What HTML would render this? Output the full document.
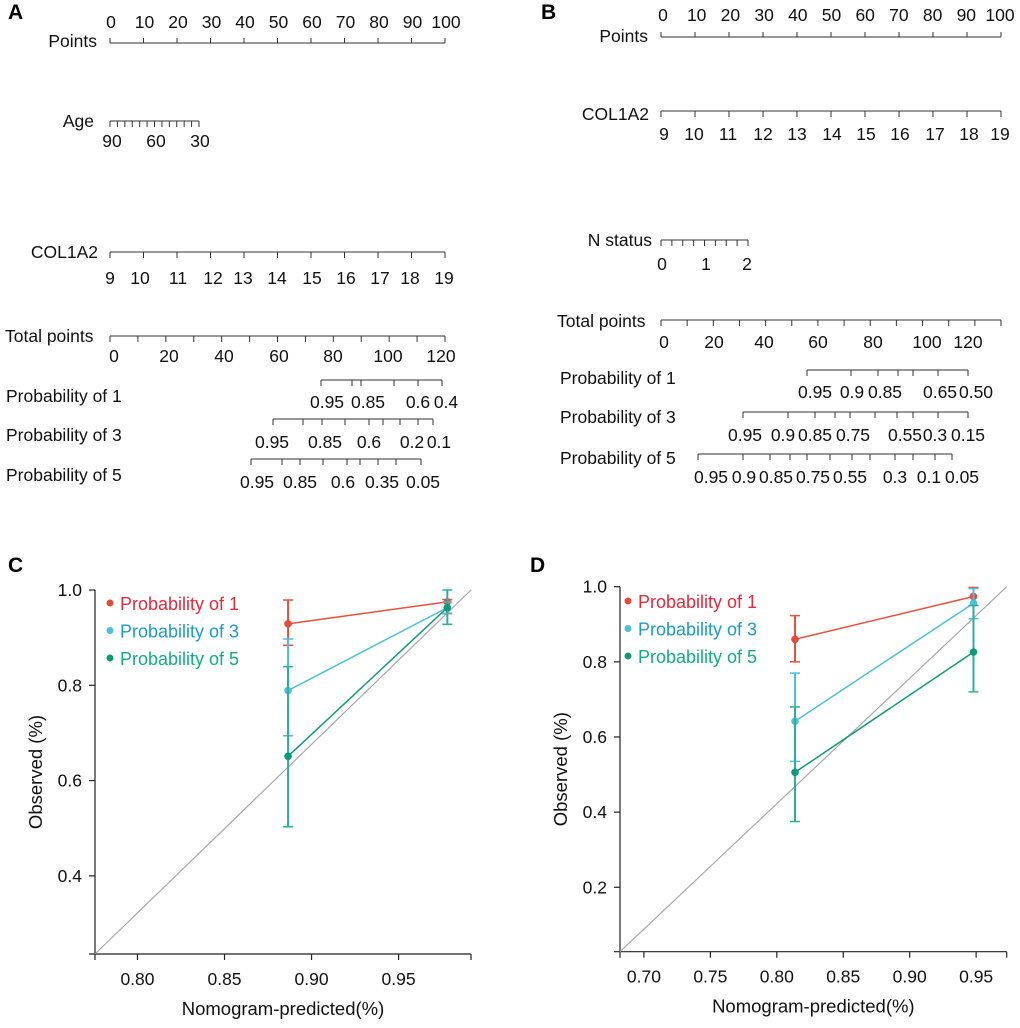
<!DOCTYPE html>
<html><head><meta charset="utf-8"><style>
body{margin:0;background:#fff;}
svg{display:block;font-family:"Liberation Sans",sans-serif;}
</style></head><body>
<svg id="fig" width="1020" height="1028" viewBox="0 0 1020 1028"></svg>
<script>
// ---------- Calibration data ----------
const predC = [0.8865, 0.978];
const p1C = [0.929, 0.975], p1CLo = [0.884, 0.951], p1CHi = [0.979, 0.98];
const p3C = [0.789, 0.963], p3CLo = [0.694, 0.95], p3CHi = [0.897, 0.975];
const p5C = [0.651, 0.963], p5CLo = [0.503, 0.928], p5CHi = [0.839, 1.0];
const predD = [0.8137, 0.948];
const p1D = [0.86, 0.974], p1DLo = [0.80, 0.95], p1DHi = [0.923, 0.998];
const p3D = [0.642, 0.956], p3DLo = [0.535, 0.915], p3DHi = [0.77, 0.995];
const p5D = [0.506, 0.826], p5DLo = [0.375, 0.72], p5DHi = [0.68, 0.95];
const xTicksC = [0.80, 0.85, 0.90, 0.95], yTicksC = [0.4, 0.6, 0.8, 1.0];
const xTicksD = [0.70, 0.75, 0.80, 0.85, 0.90, 0.95], yTicksD = [0.2, 0.4, 0.6, 0.8, 1.0];
const legendLabels = ["Probability of 1", "Probability of 3", "Probability of 5"];

const NS = "http://www.w3.org/2000/svg";
const svg = document.getElementById('fig');
const NF = 17.5;
function el(tag, attrs, parent, txt) {
  const e = document.createElementNS(NS, tag);
  for (const k in attrs) e.setAttribute(k, attrs[k]);
  if (txt !== undefined) e.textContent = txt;
  (parent || svg).appendChild(e);
  return e;
}
function grp(name) {
  const g = el('g', {});
  
  
  return g;
}
function ln(g, x1, y1, x2, y2, c, w) { return el('line', {x1, y1, x2, y2, stroke: c || '#222', 'stroke-width': w || 1}, g); }
function tx(g, x, y, s, anchor, size, fill, weight) {
  return el('text', {x, y, 'text-anchor': anchor || 'middle', 'font-size': size || 15, fill: fill || '#111', 'font-weight': weight || 'normal'}, g, s);
}

// ---------- Panel letters ----------
[["A", 8, 19], ["B", 541, 19], ["C", 8, 572], ["D", 530, 572]].forEach(([s, x, y]) => {
  const t = tx(svg, x, y, s, 'start', 21, '#000', 'bold');
  
  
});

// ---------- Nomogram helper ----------
function nomoAxis(name, label, labelX, labelY, labelAnchor, x0, x1, y, ticks, up, tlabels, tly) {
  const g = grp(name);
  ln(g, x0, y, x1, y, '#333', 1);
  ticks.forEach(t => ln(g, t, y, t, up ? y - 5 : y + 6, '#333', 1));
  tx(g, labelX, labelY, label, labelAnchor, NF);
  tlabels.forEach(([s, x]) => tx(g, x, tly, s, 'middle', NF));
}
function even(x0, x1, n) { const a = []; for (let i = 0; i < n; i++) a.push(x0 + (x1 - x0) * i / (n - 1)); return a; }

// Panel A
nomoAxis('a-points-axis', 'Points', 97, 47, 'end', 110, 445, 43, even(110, 445, 11), true,
  ['0','10','20','30','40','50','60','70','80','90','100'].map((s, i) => [s, 111 + 33.5 * i]), 28);
nomoAxis('a-age-axis', 'Age', 94, 127, 'end', 110, 199, 121, even(110, 199, 13), false,
  [['90', 112], ['60', 156], ['30', 200]], 147);
nomoAxis('a-col1a2-axis', 'COL1A2', 98, 258, 'end', 110, 445, 252, even(110, 445, 11), false,
  [['9',110],['10',140],['11',178],['12',213],['13',243],['14',277],['15',312],['16',346],['17',380],['18',410],['19',444]], 284);
nomoAxis('a-total-points-axis', 'Total points', 5, 342, 'start', 110, 445, 336, even(110, 445, 13), false,
  [['0',114],['20',169],['40',224],['60',279],['80',333],['100',388],['120',441]], 362);
nomoAxis('a-prob1-axis', 'Probability of 1', 6, 402, 'start', 321, 442, 380, [321,352,361,394,418,442], false,
  [['0.95',327],['0.85',368],['0.6',418],['0.4',446]], 408);
nomoAxis('a-prob3-axis', 'Probability of 3', 6, 441, 'start', 273, 433, 419, [273,303,322,345,369,383,400,418,433], false,
  [['0.95',272],['0.85',325],['0.6',369],['0.2',412],['0.1',439]], 448);
nomoAxis('a-prob5-axis', 'Probability of 5', 6, 481, 'start', 251, 421, 459, [251,282,300,323,347,360,378,396,421], false,
  [['0.95',257],['0.85',300],['0.6',343],['0.35',382],['0.05',423]], 488);

// Panel B
nomoAxis('b-points-axis', 'Points', 648, 42, 'end', 661, 1001, 37, even(661, 1001, 11), true,
  ['0','10','20','30','40','50','60','70','80','90','100'].map((s, i) => [s, 663 + 33.7 * i]), 21);
nomoAxis('b-col1a2-axis', 'COL1A2', 649, 120, 'end', 661, 1001, 111, even(661, 1001, 11), false,
  [['9',664],['10',694],['11',728],['12',763],['13',797],['14',832],['15',866],['16',900],['17',935],['18',969],['19',1000]], 140);
nomoAxis('b-nstatus-axis', 'N status', 652, 246, 'end', 661, 748, 240, even(661, 748, 9), false,
  [['0',662],['1',706],['2',747]], 270);
nomoAxis('b-total-points-axis', 'Total points', 557, 327, 'start', 661, 1001, 320, even(661, 1001, 14), false,
  [['0',664],['20',714],['40',764],['60',818],['80',873],['100',927],['120',968]], 348);
nomoAxis('b-prob1-axis', 'Probability of 1', 560, 384, 'start', 807, 968, 370, [807,851,878,898,913,938,968], false,
  [['0.95',815],['0.9',852],['0.85',885],['0.65',940],['0.50',976]], 398);
nomoAxis('b-prob3-axis', 'Probability of 3', 560, 423, 'start', 743, 968, 412, [743,788,815,835,850,875,897,913,938,968], false,
  [['0.95',745],['0.9',783],['0.85',815],['0.75',853],['0.55',905],['0.3',935],['0.15',968]], 441);
nomoAxis('b-prob5-axis', 'Probability of 5', 560, 464, 'start', 698, 952, 454, [698,743,770,790,807,830,852,870,895,913,935,952], false,
  [['0.95',711],['0.9',744],['0.85',776],['0.75',813],['0.55',850],['0.3',895],['0.1',929],['0.05',962]], 483);

// ---------- Calibration charts ----------
const C1 = {line: '#ea5038', dot: '#e84a3a', text: '#e8283c'};
const C3 = {line: '#4cc0de', dot: '#4fc0dc', text: '#1a9bd0'};
const C5 = {line: '#0e9a7a', dot: '#0e9a7a', text: '#10b080', err: '#2ab0a0'};

function calib(pfx, cfg) {
  const g = grp(pfx + '-calibration-chart');
  const X = v => cfg.L + (v - cfg.xmin) / (cfg.xmax - cfg.xmin) * (cfg.R - cfg.L);
  const Y = v => cfg.B - (v - cfg.ymin) / (cfg.ymax - cfg.ymin) * (cfg.B - cfg.T);
  const ax = el('g', {}, g);
  
  
  ln(ax, cfg.L, Y(cfg.ymax), cfg.L, cfg.B + 6, '#222', 1.2);
  ln(ax, cfg.L - 6, cfg.B, cfg.R, cfg.B, '#222', 1.2);
  ln(ax, cfg.R, cfg.B, cfg.R, cfg.B + 6, '#222', 1.2);
  cfg.yt.forEach(v => { ln(ax, cfg.L - 6, Y(v), cfg.L, Y(v), '#222', 1.2); tx(ax, cfg.L - 13, Y(v) + 6, v.toFixed(1), 'end', 17.5); });
  cfg.xt.forEach(v => { ln(ax, X(v), cfg.B, X(v), cfg.B + 6, '#222', 1.2); tx(ax, X(v), cfg.B + 31, v.toFixed(2), 'middle', 17.5); });
  const xt = tx(g, (cfg.L + cfg.R) / 2, cfg.B + 61, 'Nomogram-predicted(%)', 'middle', 18.5);
  
  
  const yt = tx(g, 0, 0, 'Observed (%)', 'middle', 18.5);
  yt.setAttribute('transform', `translate(${cfg.L - 53},${(cfg.T + cfg.B) / 2}) rotate(-90)`);
  
  
  const d = ln(g, X(cfg.xmin), Y(cfg.ymin), X(cfg.xmax), Y(cfg.ymax), '#a8a8a8', 1.2);
  
  
  cfg.series.forEach((s, si) => {
    const sg = el('g', {}, g);
    
    
    const ec = s.c.err || s.c.line;
    s.v.forEach((v, i) => {
      const x = X(cfg.pred[i]);
      ln(sg, x, Y(s.lo[i]), x, Y(s.hi[i]), ec, 2);
      ln(sg, x - 5, Y(s.lo[i]), x + 5, Y(s.lo[i]), ec, 1.5);
      ln(sg, x - 5, Y(s.hi[i]), x + 5, Y(s.hi[i]), ec, 1.5);
    });
    el('polyline', {points: s.v.map((v, i) => X(cfg.pred[i]) + ',' + Y(v)).join(' '), fill: 'none', stroke: s.c.line, 'stroke-width': 1.5}, sg);
    s.v.forEach((v, i) => {
      const c = el('circle', {cx: X(cfg.pred[i]), cy: Y(v), r: 3.8, fill: s.c.dot}, sg);
      
      
    });
  });
  const lg = el('g', {}, g);
  
  
  cfg.series.forEach((s, i) => {
    const y = cfg.legY + 27.5 * i;
    el('circle', {cx: cfg.legX, cy: y - 1, r: 3.5, fill: s.c.dot}, lg);
    const t = tx(lg, cfg.legX + 10, y + 6, legendLabels[i], 'start', 18, s.c.text);
    
    
  });
}

calib('c', {L: 95, R: 471, T: 590, B: 954, xmin: 0.7756, xmax: 0.9916, ymin: 0.236, ymax: 1.0,
  xt: xTicksC, yt: yTicksC, pred: predC, legX: 110, legY: 604,
  series: [{v: p1C, lo: p1CLo, hi: p1CHi, c: C1}, {v: p3C, lo: p3CLo, hi: p3CHi, c: C3}, {v: p5C, lo: p5CLo, hi: p5CHi, c: C5}]});
calib('d', {L: 620, R: 1006.7, T: 586.7, B: 951.7, xmin: 0.682, xmax: 0.973, ymin: 0.0285, ymax: 1.0,
  xt: xTicksD, yt: yTicksD, pred: predD, legX: 628, legY: 602,
  series: [{v: p1D, lo: p1DLo, hi: p1DHi, c: C1}, {v: p3D, lo: p3DLo, hi: p3DHi, c: C3}, {v: p5D, lo: p5DLo, hi: p5DHi, c: C5}]});
</script>
</body></html>
